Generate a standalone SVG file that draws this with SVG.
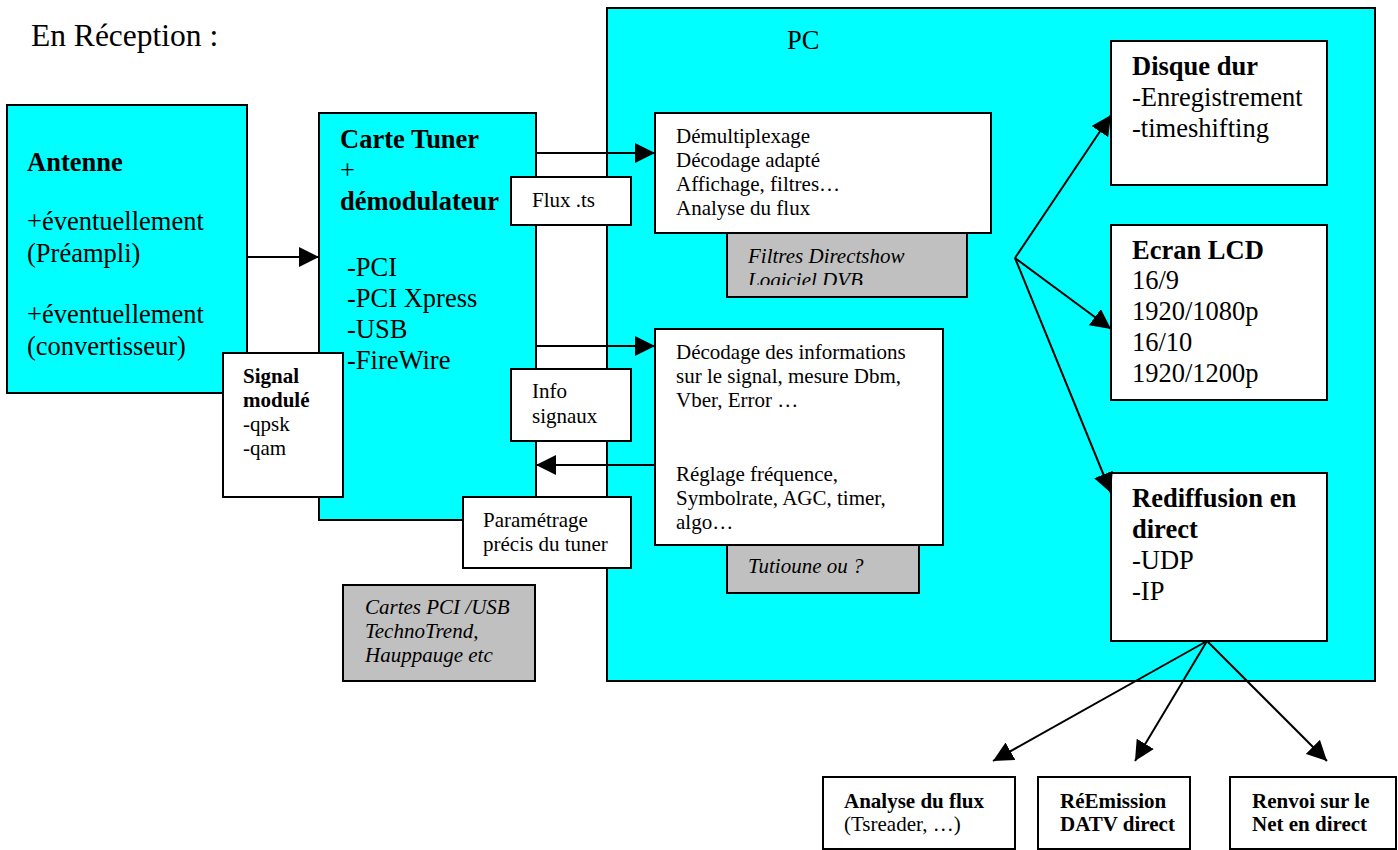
<svg xmlns="http://www.w3.org/2000/svg" width="1398" height="850" viewBox="0 0 1398 850">
<style>
text{font-family:"Liberation Serif","Times New Roman",serif;fill:#000}
.big{font-size:26.5px}
.sm{font-size:21px}
.b{font-weight:bold}
.i{font-style:italic}
.cy{fill:#00FFFF;stroke:#000;stroke-width:2}
.wh{fill:#FFFFFF;stroke:#000;stroke-width:2}
.gr{fill:#C0C0C0;stroke:#000;stroke-width:2}
.ln{fill:none;stroke:#000;stroke-width:2}
</style>
<defs>
<marker id="ah" markerUnits="userSpaceOnUse" markerWidth="20" markerHeight="20" refX="20" refY="10" orient="auto">
<path d="M0,0 L20,10 L0,20 z" fill="#000"/>
</marker>
<clipPath id="clipF"><rect x="727" y="233" width="240" height="52"/></clipPath>
</defs>
<rect width="1398" height="850" fill="#fff"/>
<text x="31" y="46" style="font-size:31.5px">En Réception :</text>

<g id="pc">
<rect class="cy" x="607" y="8" width="768" height="673"/>
<text class="big" x="787" y="49">PC</text>
</g>

<g id="antenne">
<rect class="cy" x="7" y="105" width="240" height="288"/>
<text class="big b" x="27" y="171">Antenne</text>
<text class="big" x="27" y="230">+éventuellement</text>
<text class="big" x="27" y="262">(Préampli)</text>
<text class="big" x="27" y="323">+éventuellement</text>
<text class="big" x="27" y="355">(convertisseur)</text>
</g>

<g id="tuner">
<rect class="cy" x="319" y="113" width="217" height="407"/>
<text class="big b" x="340" y="148">Carte Tuner</text>
<text class="big" x="340" y="179">+</text>
<text class="big b" x="340" y="210">démodulateur</text>
<text class="big" x="347" y="276">-PCI</text>
<text class="big" x="347" y="307">-PCI Xpress</text>
<text class="big" x="347" y="338">-USB</text>
<text class="big" x="347" y="369">-FireWire</text>
</g>

<g id="signal">
<rect class="wh" x="223" y="353" width="120" height="144"/>
<text class="sm b" x="243" y="383">Signal</text>
<text class="sm b" x="243" y="407">modulé</text>
<text class="sm" x="243" y="431">-qpsk</text>
<text class="sm" x="243" y="455">-qam</text>
</g>

<g id="flux">
<rect class="wh" x="511" y="177" width="120" height="48"/>
<text class="sm" x="532" y="207">Flux .ts</text>
</g>

<g id="info">
<rect class="wh" x="511" y="369" width="120" height="72"/>
<text class="sm" x="532" y="398">Info</text>
<text class="sm" x="532" y="423">signaux</text>
</g>

<g id="param">
<rect class="wh" x="463" y="497" width="168" height="71"/>
<text class="sm" x="483" y="527">Paramétrage</text>
<text class="sm" x="483" y="551">précis du tuner</text>
</g>

<g id="cartes">
<rect class="gr" x="343" y="585" width="192" height="96"/>
<text class="sm i" x="365" y="614">Cartes PCI /USB</text>
<text class="sm i" x="365" y="638">TechnoTrend,</text>
<text class="sm i" x="365" y="662">Hauppauge etc</text>
</g>

<g id="filtres">
<rect class="gr" x="727" y="233" width="240" height="64"/>
<g clip-path="url(#clipF)">
<text class="sm i" x="748" y="263">Filtres Directshow</text>
<text class="sm i" x="748" y="287">Logiciel DVB</text>
</g>
</g>

<g id="demux">
<rect class="wh" x="655" y="113" width="336" height="120"/>
<text class="sm" x="676" y="143">Démultiplexage</text>
<text class="sm" x="676" y="167">Décodage adapté</text>
<text class="sm" x="676" y="191">Affichage, filtres…</text>
<text class="sm" x="676" y="215">Analyse du flux</text>
</g>

<g id="tutioune">
<rect class="gr" x="727" y="544" width="192" height="49"/>
<text class="sm i" x="748" y="573">Tutioune ou ?</text>
</g>

<g id="decodage">
<rect class="wh" x="655" y="329" width="288" height="216"/>
<text class="sm" x="676" y="359">Décodage des informations</text>
<text class="sm" x="676" y="383">sur le signal, mesure Dbm,</text>
<text class="sm" x="676" y="407">Vber, Error …</text>
<text class="sm" x="676" y="481">Réglage fréquence,</text>
<text class="sm" x="676" y="505">Symbolrate, AGC, timer,</text>
<text class="sm" x="676" y="529">algo…</text>
</g>

<g id="disque">
<rect class="wh" x="1111" y="41" width="216" height="144"/>
<text class="big b" x="1132" y="75">Disque dur</text>
<text class="big" x="1132" y="106">-Enregistrement</text>
<text class="big" x="1132" y="137">-timeshifting</text>
</g>

<g id="ecran">
<rect class="wh" x="1111" y="225" width="216" height="175"/>
<text class="big b" x="1132" y="259">Ecran LCD</text>
<text class="big" x="1132" y="289">16/9</text>
<text class="big" x="1132" y="320">1920/1080p</text>
<text class="big" x="1132" y="351">16/10</text>
<text class="big" x="1132" y="382">1920/1200p</text>
</g>

<g id="rediff">
<rect class="wh" x="1111" y="473" width="216" height="168"/>
<text class="big b" x="1132" y="507">Rediffusion en</text>
<text class="big b" x="1132" y="538">direct</text>
<text class="big" x="1132" y="569">-UDP</text>
<text class="big" x="1132" y="600">-IP</text>
</g>

<g id="analyse">
<rect class="wh" x="823" y="777" width="192" height="72"/>
<text class="sm b" x="844" y="808">Analyse du flux</text>
<text class="sm" x="844" y="831">(Tsreader, …)</text>
</g>

<g id="reemission">
<rect class="wh" x="1038" y="777" width="152" height="72"/>
<text class="sm b" x="1060" y="808">RéEmission</text>
<text class="sm b" x="1060" y="831">DATV direct</text>
</g>

<g id="renvoi">
<rect class="wh" x="1230" y="777" width="166" height="72"/>
<text class="sm b" x="1252" y="808">Renvoi sur le</text>
<text class="sm b" x="1252" y="831">Net en direct</text>
</g>

<g id="connectors">
<line class="ln" x1="247" y1="257" x2="319" y2="257" marker-end="url(#ah)"/>
<line class="ln" x1="536" y1="153" x2="655" y2="153" marker-end="url(#ah)"/>
<line class="ln" x1="536" y1="346" x2="655" y2="346" marker-end="url(#ah)"/>
<line class="ln" x1="655" y1="465" x2="536" y2="465" marker-end="url(#ah)"/>
<line class="ln" x1="1015" y1="258" x2="1111" y2="115" marker-end="url(#ah)"/>
<line class="ln" x1="1015" y1="258" x2="1111" y2="329" marker-end="url(#ah)"/>
<line class="ln" x1="1015" y1="258" x2="1111" y2="493" marker-end="url(#ah)"/>
<line class="ln" x1="1207" y1="641" x2="993" y2="761" marker-end="url(#ah)"/>
<line class="ln" x1="1207" y1="641" x2="1135" y2="761" marker-end="url(#ah)"/>
<line class="ln" x1="1207" y1="641" x2="1327" y2="761" marker-end="url(#ah)"/>
</g>
</svg>
